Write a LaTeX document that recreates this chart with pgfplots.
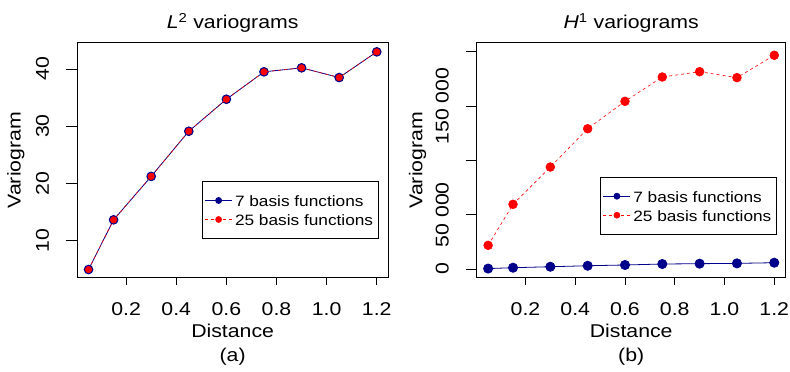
\documentclass[border=0pt]{standalone}
\usepackage{pgfplots}
\pgfplotsset{compat=1.18}
\usepackage{fontspec}
\setmainfont{Liberation Sans}[FakeStretch=1.15]

\definecolor{navyb}{RGB}{0,0,139}
\definecolor{redp}{RGB}{255,0,0}

\newcommand\labfont{\fontsize{18.5}{22}\selectfont}
\newcommand\legfont{\fontsize{15}{18}\selectfont}

\pgfplotsset{
  varioframe/.style={
    scale only axis, height=235pt, clip mode=individual,
    axis lines=box,
    axis line style={line width=1pt, black},
    tick align=outside, xtick pos=left, ytick pos=left,
    xtick style={line width=0.9pt, black, /pgfplots/major tick length=7pt},
    ytick style={line width=0.9pt, black, /pgfplots/major tick length=11pt},
    xmin=0.004, xmax=1.246,
    xtick={0.2,0.4,0.6,0.8,1.0,1.2},
    xticklabels={0.2,0.4,0.6,0.8,1.0,1.2},
    xticklabel style={anchor=north, inner sep=0pt, outer ysep=20.6pt, font=\labfont},
    yticklabel style={rotate=90, anchor=south, inner sep=0pt, outer ysep=23.7pt, font=\labfont},
    title style={font=\labfont, anchor=base, at={(axis description cs:0.5,1.035)}},
    xlabel style={font=\labfont, anchor=base, at={(axis description cs:0.5,-0.2536)}},
    ylabel style={font=\labfont, anchor=center},
    xlabel=Distance, ylabel=Variogram,
    legend cell align=left,
    legend style={draw=black, line width=1pt, font=\legfont, anchor=north west,
      inner xsep=2.5pt, inner ysep=11pt, row sep=3pt,
      nodes={inner xsep=2.5pt, inner ysep=0pt, text height=14pt, text depth=2pt}},
    legend image code/.code={%
      \draw[mark repeat=2, mark phase=2, #1, mark size=3pt]
        plot coordinates {(0pt,0pt) (13.5pt,0pt) (27pt,0pt)};},
  },
}

\begin{document}
\begin{tikzpicture}
\useasboundingbox (0,0) rectangle (790pt,372pt);

% L2 variograms: both bases give practically the same curve
\begin{axis}[varioframe, name=l2, at={(77pt,94.3pt)}, anchor=south west, width=311.3pt,
  ymin=3.47, ymax=44.6, ytick={10,20,30,40}, yticklabels={10,20,30,40},
  title={\textit{L}\textsuperscript{2} variograms},
  ylabel style={at={(axis description cs:-0.1966,0.5)}},
  legend style={at={(axis description cs:0.4006,0.4115)}}]
\addplot[navyb, line width=0.8pt, mark=*, mark size=4.4pt,
  mark options={solid, fill=navyb, draw=navyb}] table {
x y
0.05 4.9
0.15 13.6
0.30 21.2
0.45 29.1
0.60 34.7
0.75 39.5
0.90 40.2
1.05 38.5
1.20 43.0
};
\addplot[redp, dash pattern=on 3pt off 3pt, line width=0.6pt, mark=*, mark size=3.2pt,
  mark options={solid, fill=redp, draw=redp}] table {
x y
0.05 4.9
0.15 13.6
0.30 21.2
0.45 29.1
0.60 34.7
0.75 39.5
0.90 40.2
1.05 38.5
1.20 43.0
};
\legend{7 basis functions, 25 basis functions}
\node[font=\labfont, anchor=base] at (axis description cs:0.5,-0.3587) {(a)};
\end{axis}
\draw[line width=1pt, black] (l2.south west) rectangle (l2.north east);

% H1 variograms
\begin{axis}[varioframe, name=h1, at={(476.7pt,94.3pt)}, anchor=south west, width=309pt,
  ymin=-8000, ymax=208400, scaled y ticks=false,
  ytick={0,50000,100000,150000,200000},
  yticklabels={0,50 000,{},150 000,{}},
  title={\textit{H}\textsuperscript{1} variograms},
  ylabel style={at={(axis description cs:-0.1916,0.5)}},
  legend style={at={(axis description cs:0.399,0.4298)}}]
\addplot[navyb, line width=0.8pt, mark=*, mark size=4.6pt,
  mark options={solid, fill=navyb, draw=navyb}] table {
x y
0.05 400
0.15 1200
0.30 2100
0.45 3000
0.60 3700
0.75 4600
0.90 4900
1.05 5200
1.20 5800
};
\addplot[redp, dash pattern=on 3pt off 3pt, line width=0.6pt, mark=*, mark size=4.4pt,
  mark options={solid, fill=redp, draw=redp}] table {
x y
0.05 21800
0.15 59600
0.30 93900
0.45 129200
0.60 154400
0.75 176800
0.90 181700
1.05 176200
1.20 196800
};
\legend{7 basis functions, 25 basis functions}
\node[font=\labfont, anchor=base] at (axis description cs:0.5,-0.3587) {(b)};
\end{axis}
\draw[line width=1pt, black] (h1.south west) rectangle (h1.north east);
\end{tikzpicture}
\end{document}
